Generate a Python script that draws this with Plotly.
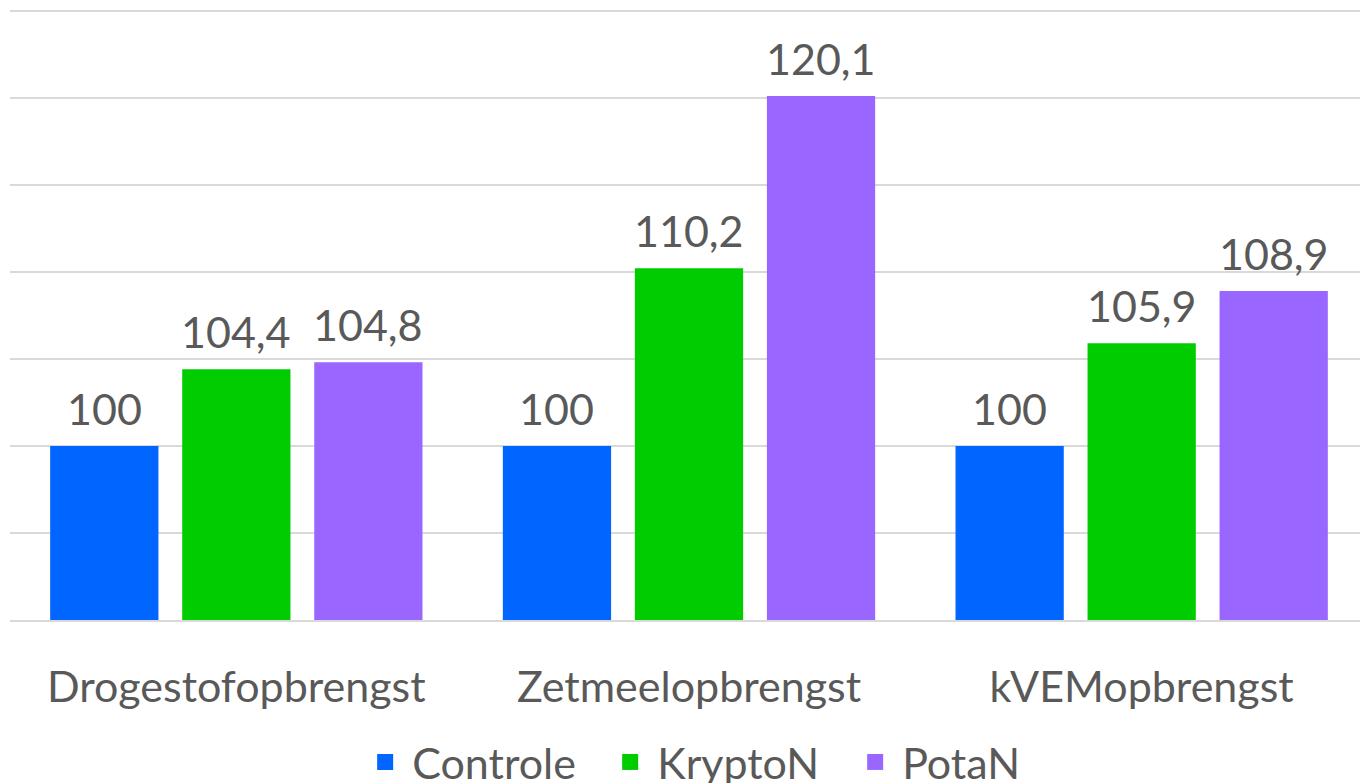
import plotly.graph_objects as go

categories = ["Drogestofopbrengst", "Zetmeelopbrengst", "kVEMopbrengst"]
series_names = ["Controle", "KryptoN", "PotaN"]
controle = [100, 100, 100]
kryptoN = [104.4, 110.2, 105.9]
potaN = [104.8, 120.1, 108.9]
colors = ["#0066FF", "#00CC00", "#9966FF"]

def fmt(v):
    s = f"{v:.1f}".replace(".", ",")
    return s[:-2] if s.endswith(",0") else s

FONT = "Lato, Open Sans, sans-serif"
TXT = "#595959"
FS = 43
BARGAP = 0.125
GROUPGAP = 0.18

fig = go.Figure()
all_series = [controle, kryptoN, potaN]
n = len(all_series)
slot = (1 - BARGAP) / n
annotations = []
for i, (name, vals, col) in enumerate(zip(series_names, all_series, colors)):
    fig.add_trace(go.Bar(
        x=categories, y=vals, name=name, marker_color=col,
        marker_line_width=0, showlegend=False,
    ))
    # legend proxy with a larger square symbol
    fig.add_trace(go.Scatter(
        x=[None], y=[None], mode="markers", name=name,
        marker=dict(symbol="square", size=22, color=col), showlegend=True,
    ))
    for j, v in enumerate(vals):
        annotations.append(dict(
            x=j + (i - (n - 1) / 2) * slot, y=v, xref="x", yref="y",
            text=fmt(v), showarrow=False, yanchor="bottom", yshift=10,
            font=dict(size=FS, color=TXT, family=FONT),
        ))

fig.update_layout(
    width=1368, height=783,
    margin=dict(l=2, r=8, t=0, b=171, autoexpand=False),
    paper_bgcolor="white", plot_bgcolor="white",
    barmode="group", bargap=BARGAP, bargroupgap=GROUPGAP,
    font=dict(family=FONT, color=TXT, size=FS),
    showlegend=True,
    annotations=annotations,
    legend=dict(orientation="h", x=0.527, xanchor="center", y=-0.232, yanchor="middle",
                font=dict(size=FS, color=TXT, family=FONT), itemwidth=44,
                entrywidth=186, entrywidthmode="pixels",
                itemsizing="trace", traceorder="normal"),
    xaxis=dict(showgrid=False, showline=True, linecolor="#D9D9D9", linewidth=2,
               ticks="", ticklabelstandoff=28, range=[-0.5, 2.5],
               tickfont=dict(size=FS, color=TXT, family=FONT)),
    yaxis=dict(range=[90, 125.15], dtick=5, tick0=90, showgrid=True, gridcolor="#D9D9D9",
               gridwidth=2, showticklabels=False, zeroline=False, showline=False),
)

fig.write_html("out.html")
